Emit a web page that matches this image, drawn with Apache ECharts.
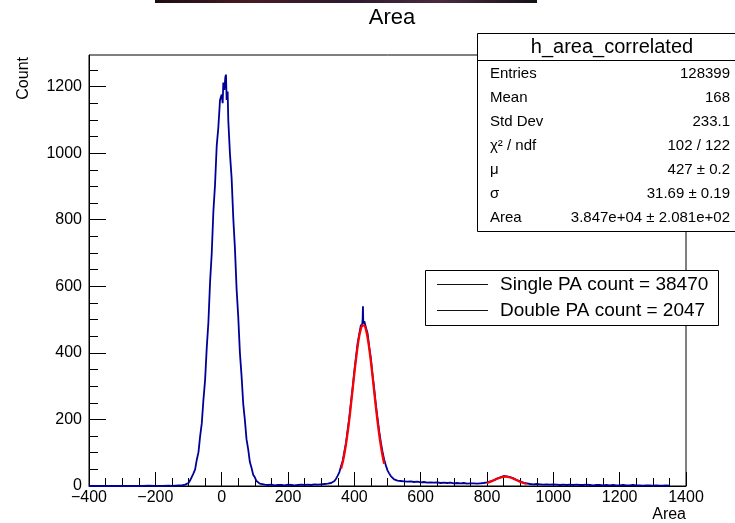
<!DOCTYPE html>
<html><head><meta charset="utf-8">
<script src="https://cdn.jsdelivr.net/npm/echarts@6/dist/echarts.min.js"></script>
<style>html,body{margin:0;padding:0;background:#fff}#c{width:735px;height:523px}</style>
</head><body><div id="c"></div>
<script>
// ---- data ----
const areaX = [-400,-380,-360,-340,-320,-300,-280,-260,-240,-220,-200,-180,-160,-150,-140,-130,-120,-115,-110,-105,
 -100,-95,-90,-85,-80,-75,-70,-65,-60,-55,-50,-45,-40,-35,-30,-25,-20,-15,-10,-5,0,3,5,8,11,13,15,18,20,25,30,35,40,45,50,55,60,65,70,75,80,85,90,95,100,105,110,115,120,
 130,140,150,160,170,180,190,200,210,220,230,240,250,260,270,280,290,300,310,320,325,
 330,335,340,345,350,355,360,365,370,375,380,385,390,395,400,405,410,415,420,423,425,426,427,430,435,440,445,450,455,460,465,470,475,480,485,490,495,500,505,510,515,520,525,530,
 540,550,560,570,580,590,600,610,620,630,640,650,660,670,680,690,700,710,720,730,740,750,760,770,780,790,
 800,810,820,830,840,850,855,860,870,880,890,900,910,920,930,
 940,950,960,970,980,990,1000,1010,1020,1030,1040,1050,1060,1070,1080,1090,1100,1110,1120,1130,1140,1150,1160,1170,1180,1190,1200,1210,1220,1230,1240,1250,1260,1270,1280,1290,1300,1310,1320,1330,1340,1350];
const countY = [0,0,0,0,0,0,0,0,0,1,0,0,1,0,1,2,2,3,4,6,
 9,17,22,38,50,79,101,149,188,259,318,415,492,612,698,825,905,1021,1078,1160,1176,1150,1212,1190,1228,1236,1160,1185,1098,998,925,805,714,592,508,400,330,247,198,140,110,72,55,34,26,15,11,7,5,
 4,3,4,2,3,3,2,4,3,2,3,4,3,4,3,5,4,5,6,7,7,
 9,12,15,22,31,42,60,76,104,131,170,207,254,297,346,388,430,458,485,478,500,540,488,495,476,458,418,383,335,292,244,204,164,131,103,79,62,47,38,30,25,20,18,16,
 15,14,13,14,12,13,11,12,10,11,10,11,9,10,9,10,8,9,8,9,7,8,8,7,8,9,
 11,14,17,22,26,30,33,29,27,23,18,14,10,8,6,
 5,6,5,4,5,4,5,4,3,4,3,4,3,4,3,3,4,3,2,3,3,2,3,2,3,2,2,3,2,2,3,2,2,1,2,2,1,2,1,1,2,1];
const fit1X = [360,365,370,375,380,385,390,395,400,405,410,415,420,425,430,435,440,445,450,455,460,465,470,475,480,485,490];
const fit1Y = [52,71,96,126,161,201,245,291,337,380,419,451,472,483,482,469,445,412,372,328,282,236,193,154,120,91,67];
const fit2X = [800,810,820,830,840,850,855,860,870,880,890,900,910,920];
const fit2Y = [9,12.5,17,21.5,25,27.5,28,27.5,25.5,21.5,17,12.5,9,6];

const xMajorTicks = [-400,-200,0,200,400,600,800,1000,1200,1400];
const yMajorTicks = [0,200,400,600,800,1000,1200];
const statsTitle = 'h_area_correlated';
const statsLabels = ['Entries','Mean','Std Dev','χ² / ndf','μ','σ','Area'];
const statsValues = ['128399','168','233.1','102 / 122','427 ± 0.2','31.69 ± 0.19','3.847e+04 ± 2.081e+02'];
const legendLabels = ['Single PA count = 38470','Double PA count = 2047'];
const chartTitle = 'Area';
const xTitle = 'Area';
const yTitle = 'Count';

const FONT = '"Liberation Sans", Arial, Helvetica, sans-serif';
const xMinorTicks = []; for (let v = -400; v <= 1400; v += 50) xMinorTicks.push(v);
const yMinorTicks = []; for (let v = 0; v <= 1250; v += 50) yMinorTicks.push(v);

const pairs = (xs, ys) => xs.map((x, i) => [x, ys[i]]);

const chart = echarts.init(document.getElementById('c'), null, {renderer: 'canvas'});
const graphic = [
  {type:'rect', shape:{x:155,y:0,width:382,height:3}, style:{fill:{type:'linear',x:0,y:0,x2:1,y2:0,colorStops:[
    {offset:0,color:'#1b0d12'},{offset:0.25,color:'#4a1a24'},{offset:0.5,color:'#2c1a30'},{offset:0.75,color:'#4a2a40'},{offset:1,color:'#151018'}]}}, z:100},
  {type:'text', x:392, y:18, style:{text:chartTitle, font:'22px '+FONT, textAlign:'center', textVerticalAlign:'middle', fill:'#000'}, z:100},
  {type:'text', x:24, y:57, rotation:Math.PI/2, style:{text:yTitle, font:'16px '+FONT, textAlign:'right', textVerticalAlign:'middle', fill:'#000'}, z:100},
  {type:'text', x:686, y:515, style:{text:xTitle, font:'16px '+FONT, textAlign:'right', textVerticalAlign:'middle', fill:'#000'}, z:100},
  // stats box
  {type:'rect', shape:{x:477.5,y:33.5,width:270,height:198}, style:{fill:'#fff', stroke:'#000', lineWidth:1}, z:100},
  {type:'line', shape:{x1:477.5,y1:60.5,x2:747,y2:60.5}, style:{stroke:'#000', lineWidth:1}, z:101},
  {type:'text', x:612, y:47, style:{text:statsTitle, font:'20px '+FONT, textAlign:'center', textVerticalAlign:'middle', fill:'#000'}, z:101},
  // legend box
  {type:'rect', shape:{x:425.5,y:270.5,width:293,height:55}, style:{fill:'#fff', stroke:'#000', lineWidth:1}, z:100}
];
statsLabels.forEach((t, i) => {
  graphic.push({type:'text', x:490, y:73.5+24*i, style:{text:t, font:'15px '+FONT, textAlign:'left', textVerticalAlign:'middle', fill:'#000'}, z:101});
  graphic.push({type:'text', x:730, y:73.5+24*i, style:{text:statsValues[i], font:'15px '+FONT, textAlign:'right', textVerticalAlign:'middle', fill:'#000'}, z:101});
});
legendLabels.forEach((t, i) => {
  const y = 284.5 + 26*i;
  graphic.push({type:'line', shape:{x1:437,y1:y,x2:488,y2:y}, style:{stroke:'#111', lineWidth:1}, z:101});
  graphic.push({type:'text', x:500, y:y, style:{text:t, font:'19px '+FONT, textAlign:'left', textVerticalAlign:'middle', fill:'#000'}, z:101});
});

chart.setOption({
  animation:false,
  backgroundColor:'#fff',
  grid:{left:89, right:49, top:55, bottom:37, show:true, borderColor:'#000', borderWidth:1, backgroundColor:'transparent', containLabel:false},
  xAxis:[{
    type:'value', min:-400, max:1400, position:'bottom',
    axisLine:{show:true, onZero:false, lineStyle:{color:'#000', width:1}},
    axisTick:{show:true, inside:true, length:14, customValues:xMajorTicks, lineStyle:{color:'#000', width:1}},
    axisLabel:{customValues:xMajorTicks, formatter:v => String(v).replace('-', '\u2212'), fontSize:16, fontFamily:FONT, color:'#000', margin:4},
    splitLine:{show:false}
  },{
    type:'value', min:-400, max:1400, position:'bottom',
    axisLine:{show:false, onZero:false},
    axisTick:{show:true, inside:true, length:8, customValues:xMinorTicks, lineStyle:{color:'#000', width:1}},
    axisLabel:{show:false, customValues:xMinorTicks},
    splitLine:{show:false}
  }],
  yAxis:[{
    type:'value', min:0, max:1295, position:'left',
    axisLine:{show:true, onZero:false, lineStyle:{color:'#000', width:1}},
    axisTick:{show:true, inside:true, length:17, customValues:yMajorTicks, lineStyle:{color:'#000', width:1}},
    axisLabel:{customValues:yMajorTicks, formatter:v => String(v), fontSize:16, fontFamily:FONT, color:'#000', margin:7},
    splitLine:{show:false}
  },{
    type:'value', min:0, max:1295, position:'left',
    axisLine:{show:false, onZero:false},
    axisTick:{show:true, inside:true, length:9, customValues:yMinorTicks, lineStyle:{color:'#000', width:1}},
    axisLabel:{show:false, customValues:yMinorTicks},
    splitLine:{show:false}
  }],
  series:[
    {type:'line', name:'h_area_correlated', xAxisIndex:0, yAxisIndex:0, data:pairs(areaX, countY), symbol:'none', lineStyle:{color:'#000099', width:1.8}, z:2},
    {type:'line', name:'fit1', xAxisIndex:0, yAxisIndex:0, data:pairs(fit1X, fit1Y), symbol:'none', smooth:true, lineStyle:{color:'#ff0000', width:2.2}, z:3},
    {type:'line', name:'fit2', xAxisIndex:0, yAxisIndex:0, data:pairs(fit2X, fit2Y), symbol:'none', smooth:true, lineStyle:{color:'#ff0000', width:2.2}, z:3}
  ],
  graphic:graphic
});
</script></body></html>
